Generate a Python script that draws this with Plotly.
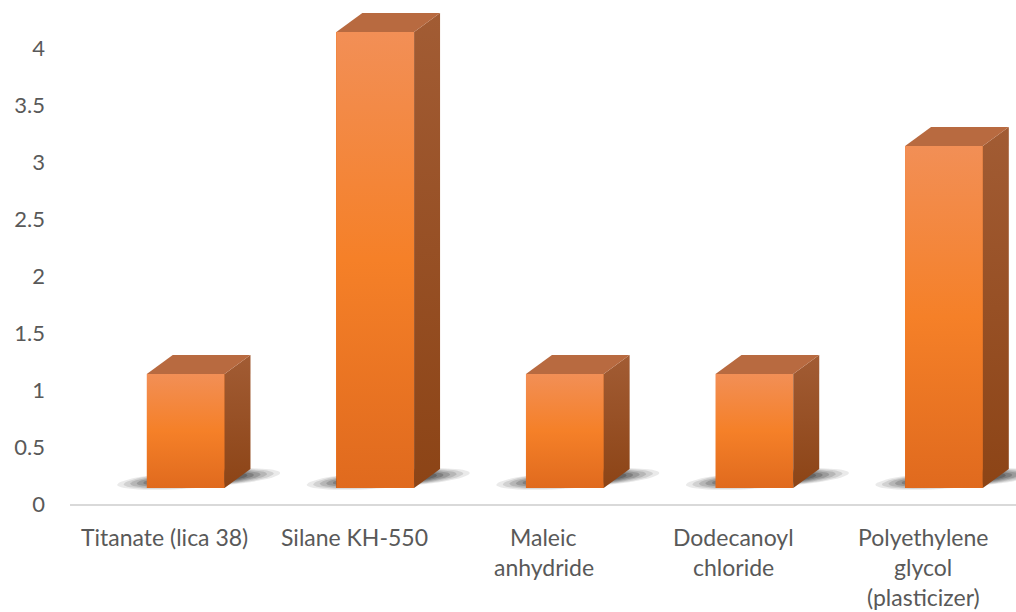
import math
import plotly.graph_objects as go

categories = ["Titanate (lica 38)", "Silane KH-550", "Maleic<br>anhydride",
              "Dodecanoyl<br>chloride", "Polyethylene<br>glycol<br>(plasticizer)"]
values = [1, 4, 1, 1, 3]
y_ticks = [0, 0.5, 1, 1.5, 2, 2.5, 3, 3.5, 4]
y_tick_labels = ["0", "0.5", "1", "1.5", "2", "2.5", "3", "3.5", "4"]

# geometry (axis units)
BAR_W = 0.41
BAR_SHIFT = 0.11
DX = 0.137
DY = 0.167

FRONT_CS = [[0, "rgb(224,106,30)"], [0.5, "rgb(245,128,40)"], [1, "rgb(242,143,86)"]]
SIDE_CS = [[0, "rgb(140,68,22)"], [1, "rgb(162,92,52)"]]
TOP_COL = "rgb(184,106,64)"
TXT = "#595959"
FONT = "Lato"

fig = go.Figure()
xs = list(range(len(categories)))

# invisible trace so the tick axis is drawn
fig.add_trace(go.Scatter(x=xs, y=values, yaxis="y", mode="none", hoverinfo="skip", showlegend=False))

# soft floor shadows (stacked translucent ellipses)
for i, v in zip(xs, values):
    x0 = i + BAR_SHIFT - BAR_W / 2
    x1 = x0 + BAR_W
    cx = (x0 + x1 + DX) / 2
    for s, al in [(1.0, 0.10), (0.92, 0.13), (0.84, 0.16), (0.76, 0.2), (0.68, 0.25), (0.6, 0.3)]:
        px, py = [], []
        for k in range(61):
            a = 2 * math.pi * k / 60
            xx = cx + 0.43 * s * math.cos(a)
            px.append(xx)
            py.append(0.08 + 0.08 * s * math.sin(a) + (xx - cx) * 0.12)
        fig.add_trace(go.Scatter(x=px, y=py, yaxis="y2", mode="lines", line=dict(width=0),
                                 fill="toself", fillcolor=f"rgba(45,45,45,{al})",
                                 hoverinfo="skip", showlegend=False))

# front faces (bars)
fig.add_trace(go.Bar(x=xs, y=values, yaxis="y2", width=BAR_W,
                     offset=BAR_SHIFT - BAR_W / 2,
                     marker=dict(color="rgb(240,125,40)", line=dict(width=0)),
                     showlegend=False))

for i, v in zip(xs, values):
    x0 = i + BAR_SHIFT - BAR_W / 2
    x1 = x0 + BAR_W
    # front gradient
    fig.add_trace(go.Scatter(x=[x0, x1, x1, x0, x0], y=[0, 0, v, v, 0], yaxis="y2",
                             mode="lines", line=dict(width=0), fill="toself",
                             fillgradient=dict(type="vertical", colorscale=FRONT_CS),
                             hoverinfo="skip", showlegend=False))
    # side face
    fig.add_trace(go.Scatter(x=[x1, x1 + DX, x1 + DX, x1, x1], y=[0, DY, v + DY, v, 0], yaxis="y2",
                             mode="lines", line=dict(width=0), fill="toself",
                             fillgradient=dict(type="vertical", colorscale=SIDE_CS),
                             hoverinfo="skip", showlegend=False))
    # top face
    fig.add_trace(go.Scatter(x=[x0, x0 + DX, x1 + DX, x1, x0], y=[v, v + DY, v + DY, v, v], yaxis="y2",
                             mode="lines", line=dict(width=0), fill="toself", fillcolor=TOP_COL,
                             hoverinfo="skip", showlegend=False))

# category labels
for i, c in zip(xs, categories):
    for j, line in enumerate(c.split("<br>")):
        fig.add_annotation(x=i, xref="x", y=0, yref="paper", text=line, showarrow=False,
                           yanchor="middle", xanchor="center", yshift=-33 - 30 * j,
                           font=dict(family=FONT, size=23, color=TXT))

fig.update_layout(
    width=1016, height=612,
    margin=dict(l=70, r=0, t=8, b=108),
    plot_bgcolor="white", paper_bgcolor="white",
    bargap=0,
    xaxis=dict(range=[-0.5, 4.49], showgrid=False, zeroline=False, showline=True,
               linecolor="#D9D9D9", linewidth=1.5, showticklabels=False, ticks=""),
    yaxis=dict(range=[0, 4.35], tickvals=y_ticks, ticktext=y_tick_labels, showgrid=False,
               zeroline=False, showline=False, ticks="", ticklabelstandoff=24,
               tickfont=dict(family=FONT, size=22, color=TXT)),
    yaxis2=dict(range=[-0.14, 4.21], overlaying="y", visible=False),
)

fig.write_html("out.html")
